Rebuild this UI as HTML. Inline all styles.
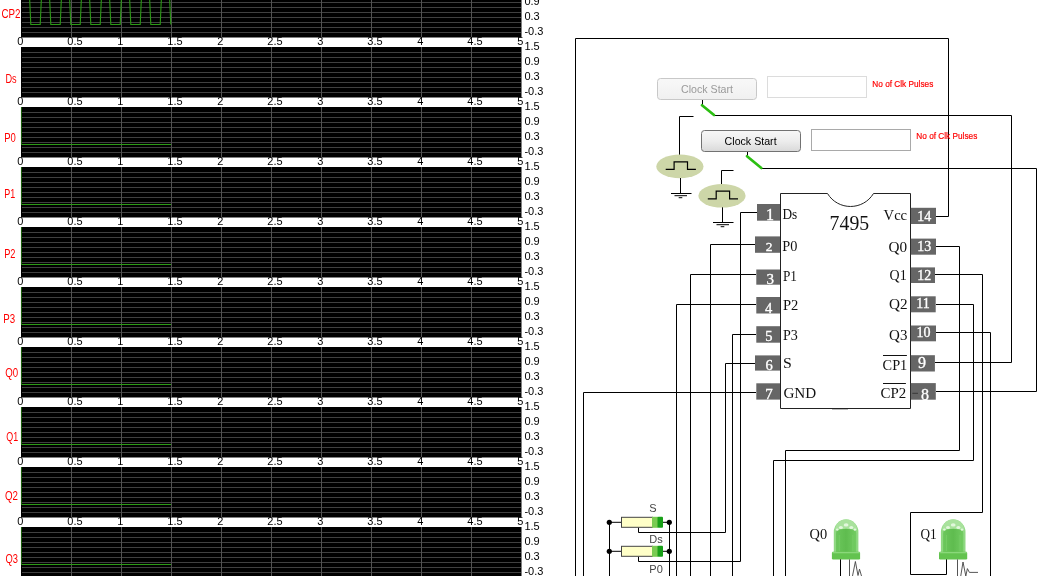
<!DOCTYPE html>
<html lang="en"><head><meta charset="utf-8"><title>7495 Shift Register</title>
<style>html,body{margin:0;padding:0;background:#fff;overflow:hidden}svg{display:block}.ax{font:11px 'Liberation Sans', Arial, sans-serif;fill:#000}.lb{font:12px 'Liberation Sans', Arial, sans-serif;fill:#f00}.sw{font:11px 'Liberation Sans', Arial, sans-serif;fill:#444}.ic{font:14.5px 'Liberation Serif', 'Times New Roman', serif;fill:#111}.pn{font:14px 'Liberation Serif', 'Times New Roman', serif;fill:#fff;stroke:#fff;stroke-width:.35px;text-anchor:middle}.w{fill:none;stroke:#000;stroke-width:1}</style></head><body>
<svg width="1052" height="576" viewBox="0 0 1052 576">
<defs>
<linearGradient id="btn" x1="0" y1="0" x2="0" y2="1"><stop offset="0" stop-color="#f7f7f7"/><stop offset="0.5" stop-color="#ededed"/><stop offset="1" stop-color="#d9d9d9"/></linearGradient>
<linearGradient id="btnd" x1="0" y1="0" x2="0" y2="1"><stop offset="0" stop-color="#f8f8f8"/><stop offset="1" stop-color="#f0f0f0"/></linearGradient>
<linearGradient id="led" x1="0" y1="0" x2="1" y2="0"><stop offset="0" stop-color="#6cc75c"/><stop offset="0.5" stop-color="#5fbc4f"/><stop offset="1" stop-color="#72cc62"/></linearGradient>
<filter id="nf" x="0" y="0" width="100%" height="100%" filterUnits="userSpaceOnUse" color-interpolation-filters="sRGB"><feOffset dx="0" dy="0"/></filter>
</defs>
<rect x="0" y="0" width="1052" height="576" fill="#fff"/>
<g filter="url(#nf)">
<g>
<rect x="21" y="-13" width="500.5" height="50.5" fill="#000"/>
<path d="M22 -7.5H521M22 -2.5H521M22 2.5H521M22 7.5H521M22 12.5H521M22 17.5H521M22 22.5H521M22 27.5H521M22 32.5H521" stroke="#404040" stroke-width="1" fill="none"/>
<path d="M71.5 -13V37M121.5 -13V37M171.5 -13V37M221.5 -13V37M271.5 -13V37M321.5 -13V37M371.5 -13V37M421.5 -13V37M471.5 -13V37" stroke="#525252" stroke-width="1" fill="none"/>
<polyline points="21.5,-2.0 29.6,-2.0 30.8,24.5 40.2,24.5 41.4,-2.0 49.6,-2.0 50.8,24.5 60.2,24.5 61.4,-2.0 69.6,-2.0 70.8,24.5 80.2,24.5 81.4,-2.0 89.6,-2.0 90.8,24.5 100.2,24.5 101.4,-2.0 109.6,-2.0 110.8,24.5 120.2,24.5 121.4,-2.0 129.6,-2.0 130.8,24.5 140.2,24.5 141.4,-2.0 149.6,-2.0 150.8,24.5 160.2,24.5 161.4,-2.0 169.6,-2.0 170.8,24.5" fill="none" stroke="#2c9a16" stroke-width="1.1"/>
<text class="ax" x="17.3" y="45">0</text>
<text class="ax" x="67.3" y="45">0.5</text>
<text class="ax" x="117.3" y="45">1</text>
<text class="ax" x="167.3" y="45">1.5</text>
<text class="ax" x="217.3" y="45">2</text>
<text class="ax" x="267.3" y="45">2.5</text>
<text class="ax" x="317.3" y="45">3</text>
<text class="ax" x="367.3" y="45">3.5</text>
<text class="ax" x="417.3" y="45">4</text>
<text class="ax" x="467.3" y="45">4.5</text>
<text class="ax" x="517.3" y="45">5</text>
<text class="ax" x="524.4" y="4.7">0.9</text>
<text class="ax" x="524.4" y="19.7">0.3</text>
<text class="ax" x="524.4" y="34.7">-0.3</text>
<text class="lb" x="1.5" y="18.0" textLength="19.0" lengthAdjust="spacingAndGlyphs">CP2</text>
</g>
<g>
<rect x="21" y="47" width="500.5" height="50.5" fill="#000"/>
<path d="M22 52.5H521M22 57.5H521M22 62.5H521M22 67.5H521M22 72.5H521M22 77.5H521M22 82.5H521M22 87.5H521M22 92.5H521" stroke="#404040" stroke-width="1" fill="none"/>
<path d="M71.5 47V97M121.5 47V97M171.5 47V97M221.5 47V97M271.5 47V97M321.5 47V97M371.5 47V97M421.5 47V97M471.5 47V97" stroke="#525252" stroke-width="1" fill="none"/>
<text class="ax" x="17.3" y="105">0</text>
<text class="ax" x="67.3" y="105">0.5</text>
<text class="ax" x="117.3" y="105">1</text>
<text class="ax" x="167.3" y="105">1.5</text>
<text class="ax" x="217.3" y="105">2</text>
<text class="ax" x="267.3" y="105">2.5</text>
<text class="ax" x="317.3" y="105">3</text>
<text class="ax" x="367.3" y="105">3.5</text>
<text class="ax" x="417.3" y="105">4</text>
<text class="ax" x="467.3" y="105">4.5</text>
<text class="ax" x="517.3" y="105">5</text>
<text class="ax" x="524.4" y="49.7">1.5</text>
<text class="ax" x="524.4" y="64.7">0.9</text>
<text class="ax" x="524.4" y="79.7">0.3</text>
<text class="ax" x="524.4" y="94.7">-0.3</text>
<text class="lb" x="5.4" y="83.0" textLength="11.2" lengthAdjust="spacingAndGlyphs">Ds</text>
</g>
<g>
<rect x="21" y="107" width="500.5" height="50.5" fill="#000"/>
<path d="M22 112.5H521M22 117.5H521M22 122.5H521M22 127.5H521M22 132.5H521M22 137.5H521M22 142.5H521M22 147.5H521M22 152.5H521" stroke="#404040" stroke-width="1" fill="none"/>
<path d="M71.5 107V157M121.5 107V157M171.5 107V157M221.5 107V157M271.5 107V157M321.5 107V157M371.5 107V157M421.5 107V157M471.5 107V157" stroke="#525252" stroke-width="1" fill="none"/>
<path d="M21.4 107V144.5" fill="none" stroke="#2c9a16" stroke-width="0.7"/>
<path d="M21.5 144.5H171" fill="none" stroke="#2c9a16" stroke-width="1.1"/>
<text class="ax" x="17.3" y="165">0</text>
<text class="ax" x="67.3" y="165">0.5</text>
<text class="ax" x="117.3" y="165">1</text>
<text class="ax" x="167.3" y="165">1.5</text>
<text class="ax" x="217.3" y="165">2</text>
<text class="ax" x="267.3" y="165">2.5</text>
<text class="ax" x="317.3" y="165">3</text>
<text class="ax" x="367.3" y="165">3.5</text>
<text class="ax" x="417.3" y="165">4</text>
<text class="ax" x="467.3" y="165">4.5</text>
<text class="ax" x="517.3" y="165">5</text>
<text class="ax" x="524.4" y="109.7">1.5</text>
<text class="ax" x="524.4" y="124.7">0.9</text>
<text class="ax" x="524.4" y="139.7">0.3</text>
<text class="ax" x="524.4" y="154.7">-0.3</text>
<text class="lb" x="4.2" y="142.0" textLength="11.6" lengthAdjust="spacingAndGlyphs">P0</text>
</g>
<g>
<rect x="21" y="167" width="500.5" height="50.5" fill="#000"/>
<path d="M22 172.5H521M22 177.5H521M22 182.5H521M22 187.5H521M22 192.5H521M22 197.5H521M22 202.5H521M22 207.5H521M22 212.5H521" stroke="#404040" stroke-width="1" fill="none"/>
<path d="M71.5 167V217M121.5 167V217M171.5 167V217M221.5 167V217M271.5 167V217M321.5 167V217M371.5 167V217M421.5 167V217M471.5 167V217" stroke="#525252" stroke-width="1" fill="none"/>
<path d="M21.4 167V204.5" fill="none" stroke="#2c9a16" stroke-width="0.7"/>
<path d="M21.5 204.5H171" fill="none" stroke="#2c9a16" stroke-width="1.1"/>
<text class="ax" x="17.3" y="225">0</text>
<text class="ax" x="67.3" y="225">0.5</text>
<text class="ax" x="117.3" y="225">1</text>
<text class="ax" x="167.3" y="225">1.5</text>
<text class="ax" x="217.3" y="225">2</text>
<text class="ax" x="267.3" y="225">2.5</text>
<text class="ax" x="317.3" y="225">3</text>
<text class="ax" x="367.3" y="225">3.5</text>
<text class="ax" x="417.3" y="225">4</text>
<text class="ax" x="467.3" y="225">4.5</text>
<text class="ax" x="517.3" y="225">5</text>
<text class="ax" x="524.4" y="169.7">1.5</text>
<text class="ax" x="524.4" y="184.7">0.9</text>
<text class="ax" x="524.4" y="199.7">0.3</text>
<text class="ax" x="524.4" y="214.7">-0.3</text>
<text class="lb" x="4.2" y="198.0" textLength="11.0" lengthAdjust="spacingAndGlyphs">P1</text>
</g>
<g>
<rect x="21" y="227" width="500.5" height="50.5" fill="#000"/>
<path d="M22 232.5H521M22 237.5H521M22 242.5H521M22 247.5H521M22 252.5H521M22 257.5H521M22 262.5H521M22 267.5H521M22 272.5H521" stroke="#404040" stroke-width="1" fill="none"/>
<path d="M71.5 227V277M121.5 227V277M171.5 227V277M221.5 227V277M271.5 227V277M321.5 227V277M371.5 227V277M421.5 227V277M471.5 227V277" stroke="#525252" stroke-width="1" fill="none"/>
<path d="M21.4 227V264.5" fill="none" stroke="#2c9a16" stroke-width="0.7"/>
<path d="M21.5 264.5H171" fill="none" stroke="#2c9a16" stroke-width="1.1"/>
<text class="ax" x="17.3" y="285">0</text>
<text class="ax" x="67.3" y="285">0.5</text>
<text class="ax" x="117.3" y="285">1</text>
<text class="ax" x="167.3" y="285">1.5</text>
<text class="ax" x="217.3" y="285">2</text>
<text class="ax" x="267.3" y="285">2.5</text>
<text class="ax" x="317.3" y="285">3</text>
<text class="ax" x="367.3" y="285">3.5</text>
<text class="ax" x="417.3" y="285">4</text>
<text class="ax" x="467.3" y="285">4.5</text>
<text class="ax" x="517.3" y="285">5</text>
<text class="ax" x="524.4" y="229.7">1.5</text>
<text class="ax" x="524.4" y="244.7">0.9</text>
<text class="ax" x="524.4" y="259.7">0.3</text>
<text class="ax" x="524.4" y="274.7">-0.3</text>
<text class="lb" x="4.2" y="257.5" textLength="11.3" lengthAdjust="spacingAndGlyphs">P2</text>
</g>
<g>
<rect x="21" y="287" width="500.5" height="50.5" fill="#000"/>
<path d="M22 292.5H521M22 297.5H521M22 302.5H521M22 307.5H521M22 312.5H521M22 317.5H521M22 322.5H521M22 327.5H521M22 332.5H521" stroke="#404040" stroke-width="1" fill="none"/>
<path d="M71.5 287V337M121.5 287V337M171.5 287V337M221.5 287V337M271.5 287V337M321.5 287V337M371.5 287V337M421.5 287V337M471.5 287V337" stroke="#525252" stroke-width="1" fill="none"/>
<path d="M21.4 287V324.5" fill="none" stroke="#2c9a16" stroke-width="0.7"/>
<path d="M21.5 324.5H171" fill="none" stroke="#2c9a16" stroke-width="1.1"/>
<text class="ax" x="17.3" y="345">0</text>
<text class="ax" x="67.3" y="345">0.5</text>
<text class="ax" x="117.3" y="345">1</text>
<text class="ax" x="167.3" y="345">1.5</text>
<text class="ax" x="217.3" y="345">2</text>
<text class="ax" x="267.3" y="345">2.5</text>
<text class="ax" x="317.3" y="345">3</text>
<text class="ax" x="367.3" y="345">3.5</text>
<text class="ax" x="417.3" y="345">4</text>
<text class="ax" x="467.3" y="345">4.5</text>
<text class="ax" x="517.3" y="345">5</text>
<text class="ax" x="524.4" y="289.7">1.5</text>
<text class="ax" x="524.4" y="304.7">0.9</text>
<text class="ax" x="524.4" y="319.7">0.3</text>
<text class="ax" x="524.4" y="334.7">-0.3</text>
<text class="lb" x="3.3" y="322.5" textLength="11.9" lengthAdjust="spacingAndGlyphs">P3</text>
</g>
<g>
<rect x="21" y="347" width="500.5" height="50.5" fill="#000"/>
<path d="M22 352.5H521M22 357.5H521M22 362.5H521M22 367.5H521M22 372.5H521M22 377.5H521M22 382.5H521M22 387.5H521M22 392.5H521" stroke="#404040" stroke-width="1" fill="none"/>
<path d="M71.5 347V397M121.5 347V397M171.5 347V397M221.5 347V397M271.5 347V397M321.5 347V397M371.5 347V397M421.5 347V397M471.5 347V397" stroke="#525252" stroke-width="1" fill="none"/>
<path d="M21.4 347V384.5" fill="none" stroke="#2c9a16" stroke-width="0.7"/>
<path d="M21.5 384.5H171" fill="none" stroke="#2c9a16" stroke-width="1.1"/>
<text class="ax" x="17.3" y="405">0</text>
<text class="ax" x="67.3" y="405">0.5</text>
<text class="ax" x="117.3" y="405">1</text>
<text class="ax" x="167.3" y="405">1.5</text>
<text class="ax" x="217.3" y="405">2</text>
<text class="ax" x="267.3" y="405">2.5</text>
<text class="ax" x="317.3" y="405">3</text>
<text class="ax" x="367.3" y="405">3.5</text>
<text class="ax" x="417.3" y="405">4</text>
<text class="ax" x="467.3" y="405">4.5</text>
<text class="ax" x="517.3" y="405">5</text>
<text class="ax" x="524.4" y="349.7">1.5</text>
<text class="ax" x="524.4" y="364.7">0.9</text>
<text class="ax" x="524.4" y="379.7">0.3</text>
<text class="ax" x="524.4" y="394.7">-0.3</text>
<text class="lb" x="5.2" y="376.5" textLength="12.9" lengthAdjust="spacingAndGlyphs">Q0</text>
</g>
<g>
<rect x="21" y="407" width="500.5" height="50.5" fill="#000"/>
<path d="M22 412.5H521M22 417.5H521M22 422.5H521M22 427.5H521M22 432.5H521M22 437.5H521M22 442.5H521M22 447.5H521M22 452.5H521" stroke="#404040" stroke-width="1" fill="none"/>
<path d="M71.5 407V457M121.5 407V457M171.5 407V457M221.5 407V457M271.5 407V457M321.5 407V457M371.5 407V457M421.5 407V457M471.5 407V457" stroke="#525252" stroke-width="1" fill="none"/>
<path d="M21.4 407V444.5" fill="none" stroke="#2c9a16" stroke-width="0.7"/>
<path d="M21.5 444.5H171" fill="none" stroke="#2c9a16" stroke-width="1.1"/>
<text class="ax" x="17.3" y="465">0</text>
<text class="ax" x="67.3" y="465">0.5</text>
<text class="ax" x="117.3" y="465">1</text>
<text class="ax" x="167.3" y="465">1.5</text>
<text class="ax" x="217.3" y="465">2</text>
<text class="ax" x="267.3" y="465">2.5</text>
<text class="ax" x="317.3" y="465">3</text>
<text class="ax" x="367.3" y="465">3.5</text>
<text class="ax" x="417.3" y="465">4</text>
<text class="ax" x="467.3" y="465">4.5</text>
<text class="ax" x="517.3" y="465">5</text>
<text class="ax" x="524.4" y="409.7">1.5</text>
<text class="ax" x="524.4" y="424.7">0.9</text>
<text class="ax" x="524.4" y="439.7">0.3</text>
<text class="ax" x="524.4" y="454.7">-0.3</text>
<text class="lb" x="6.2" y="440.5" textLength="11.9" lengthAdjust="spacingAndGlyphs">Q1</text>
</g>
<g>
<rect x="21" y="467" width="500.5" height="50.5" fill="#000"/>
<path d="M22 472.5H521M22 477.5H521M22 482.5H521M22 487.5H521M22 492.5H521M22 497.5H521M22 502.5H521M22 507.5H521M22 512.5H521" stroke="#404040" stroke-width="1" fill="none"/>
<path d="M71.5 467V517M121.5 467V517M171.5 467V517M221.5 467V517M271.5 467V517M321.5 467V517M371.5 467V517M421.5 467V517M471.5 467V517" stroke="#525252" stroke-width="1" fill="none"/>
<path d="M21.4 467V504.5" fill="none" stroke="#2c9a16" stroke-width="0.7"/>
<path d="M21.5 504.5H171" fill="none" stroke="#2c9a16" stroke-width="1.1"/>
<text class="ax" x="17.3" y="525">0</text>
<text class="ax" x="67.3" y="525">0.5</text>
<text class="ax" x="117.3" y="525">1</text>
<text class="ax" x="167.3" y="525">1.5</text>
<text class="ax" x="217.3" y="525">2</text>
<text class="ax" x="267.3" y="525">2.5</text>
<text class="ax" x="317.3" y="525">3</text>
<text class="ax" x="367.3" y="525">3.5</text>
<text class="ax" x="417.3" y="525">4</text>
<text class="ax" x="467.3" y="525">4.5</text>
<text class="ax" x="517.3" y="525">5</text>
<text class="ax" x="524.4" y="469.7">1.5</text>
<text class="ax" x="524.4" y="484.7">0.9</text>
<text class="ax" x="524.4" y="499.7">0.3</text>
<text class="ax" x="524.4" y="514.7">-0.3</text>
<text class="lb" x="5.0" y="500.0" textLength="13.0" lengthAdjust="spacingAndGlyphs">Q2</text>
</g>
<g>
<rect x="21" y="527" width="500.5" height="50.5" fill="#000"/>
<path d="M22 532.5H521M22 537.5H521M22 542.5H521M22 547.5H521M22 552.5H521M22 557.5H521M22 562.5H521M22 567.5H521M22 572.5H521" stroke="#404040" stroke-width="1" fill="none"/>
<path d="M71.5 527V577M121.5 527V577M171.5 527V577M221.5 527V577M271.5 527V577M321.5 527V577M371.5 527V577M421.5 527V577M471.5 527V577" stroke="#525252" stroke-width="1" fill="none"/>
<path d="M21.4 527V564.5" fill="none" stroke="#2c9a16" stroke-width="0.7"/>
<path d="M21.5 564.5H171" fill="none" stroke="#2c9a16" stroke-width="1.1"/>
<text class="ax" x="17.3" y="585">0</text>
<text class="ax" x="67.3" y="585">0.5</text>
<text class="ax" x="117.3" y="585">1</text>
<text class="ax" x="167.3" y="585">1.5</text>
<text class="ax" x="217.3" y="585">2</text>
<text class="ax" x="267.3" y="585">2.5</text>
<text class="ax" x="317.3" y="585">3</text>
<text class="ax" x="367.3" y="585">3.5</text>
<text class="ax" x="417.3" y="585">4</text>
<text class="ax" x="467.3" y="585">4.5</text>
<text class="ax" x="517.3" y="585">5</text>
<text class="ax" x="524.4" y="529.7">1.5</text>
<text class="ax" x="524.4" y="544.7">0.9</text>
<text class="ax" x="524.4" y="559.7">0.3</text>
<text class="ax" x="524.4" y="574.7">-0.3</text>
<text class="lb" x="5.5" y="563.0" textLength="12.5" lengthAdjust="spacingAndGlyphs">Q3</text>
</g>
<polyline class="w" points="936,216.5 948.5,216.5 948.5,38.5 575.5,38.5 575.5,577"/>
<polyline class="w" points="756,392.5 583.5,392.5 583.5,577"/>
<polyline class="w" points="757,212.5 740.5,212.5 740.5,561.5 638.5,561.5 638.5,556.5"/>
<polyline class="w" points="755,244.5 710.5,244.5 710.5,577"/>
<polyline class="w" points="756,274.5 690.5,274.5 690.5,577"/>
<polyline class="w" points="756,304.5 676.5,304.5 676.5,577"/>
<polyline class="w" points="756,334.5 732.5,334.5 732.5,577"/>
<polyline class="w" points="755,363.5 725.5,363.5 725.5,532.5 638.5,532.5 638.5,527.5"/>
<polyline class="w" points="936,246.5 959.5,246.5 959.5,450.5 785.5,450.5 785.5,577"/>
<polyline class="w" points="935,274.5 982.5,274.5 982.5,512.5 910.5,512.5 910.5,574.5 946.5,574.5 946.5,559"/>
<polyline class="w" points="936,304.5 973.5,304.5 973.5,460.5 773.5,460.5 773.5,577"/>
<polyline class="w" points="936,332.5 990.5,332.5 990.5,577"/>
<polyline class="w" points="935,362.5 1011.5,362.5 1011.5,115.5 714,115.5"/>
<polyline class="w" points="936,391.5 1036.5,391.5 1036.5,168.5 761,168.5"/>
<polyline class="w" points="702.5,100 702.5,105"/>
<polyline class="w" points="693.5,116.5 679.5,116.5 679.5,155"/>
<line x1="702" y1="105.3" x2="714" y2="115" stroke="#2cbf12" stroke-width="2.7" stroke-linecap="round"/>
<polyline class="w" points="747.5,152 747.5,156"/>
<polyline class="w" points="733.5,170.5 721.5,170.5 721.5,185"/>
<line x1="747" y1="156.2" x2="761.3" y2="168" stroke="#2cbf12" stroke-width="2.7" stroke-linecap="round"/>
<ellipse cx="679.9" cy="166.4" rx="23.6" ry="11.8" fill="#cdd6a8"/>
<polyline points="665.7,169.4 674.1,169.4 674.1,161.8 687.5,161.8 687.5,169.4 695.9,169.4" fill="none" stroke="#000" stroke-width="1.2"/>
<polyline class="w" points="680.5,178 680.5,193.5"/>
<path d="M671 193.5H691.5M674.5 195.7H687M678.7 197.7H682.3" stroke="#000" stroke-width="1" fill="none"/>
<ellipse cx="722" cy="195.8" rx="23.6" ry="11.8" fill="#cdd6a8"/>
<polyline points="707.8,198.8 716.2,198.8 716.2,191.2 729.6,191.2 729.6,198.8 738,198.8" fill="none" stroke="#000" stroke-width="1.2"/>
<polyline class="w" points="722.5,207.3 722.5,222.5"/>
<path d="M713 222.5H733.5M716.5 224.7H729M720.7 226.7H724.3" stroke="#000" stroke-width="1" fill="none"/>
<rect x="657.5" y="78.5" width="99" height="21" rx="3" fill="url(#btnd)" stroke="#c8c8c8"/>
<text x="707" y="93" text-anchor="middle" style="font:11px 'Liberation Sans', Arial, sans-serif" fill="#9a9a9a" textLength="52" lengthAdjust="spacingAndGlyphs">Clock Start</text>
<rect x="767.5" y="76.5" width="99" height="21" fill="#fff" stroke="#dcdcdc"/>
<text x="872.3" y="86.8" style="font:9.4px 'Liberation Sans', Arial, sans-serif" fill="#f00" stroke="#f00" stroke-width="0.2" textLength="61" lengthAdjust="spacingAndGlyphs">No of Clk Pulses</text>
<rect x="701.5" y="130.5" width="99" height="21" rx="3" fill="url(#btn)" stroke="#727272"/>
<text x="750.6" y="145" text-anchor="middle" style="font:11px 'Liberation Sans', Arial, sans-serif" fill="#000" textLength="52" lengthAdjust="spacingAndGlyphs">Clock Start</text>
<rect x="811.5" y="129.5" width="99" height="21" fill="#fff" stroke="#a9a9a9"/>
<text x="916.3" y="139.1" style="font:9.4px 'Liberation Sans', Arial, sans-serif" fill="#f00" stroke="#f00" stroke-width="0.2" textLength="61" lengthAdjust="spacingAndGlyphs">No of Clk Pulses</text>
<path d="M780.5 408.5V193.5H827.5C838 210.8 863 210.8 873.5 193.5H910.5V408.5Z" fill="#fff" stroke="#222" stroke-width="1"/>
<path d="M832 409.5H848" stroke="#bbb" stroke-width="1"/>
<text x="829.6" y="230.2" style="font:21px 'Liberation Serif', 'Times New Roman', serif" fill="#111" textLength="39.6" lengthAdjust="spacingAndGlyphs">7495</text>
<rect x="757" y="204" width="23" height="16.7" fill="#666"/>
<text class="pn" x="770" y="219.7" style="font-size:16px">1</text>
<text class="ic" x="782.5" y="219" textLength="14.8" lengthAdjust="spacingAndGlyphs">Ds</text>
<rect x="755" y="236.4" width="25" height="16.4" fill="#666"/>
<text class="pn" x="769.2" y="251.3" style="font-size:13.5px">2</text>
<text class="ic" x="782.2" y="251" textLength="15.1" lengthAdjust="spacingAndGlyphs">P0</text>
<rect x="756.3" y="269.5" width="23.7" height="15.2" fill="#666"/>
<text class="pn" x="770.3" y="283.6" style="font-size:15px">3</text>
<text class="ic" x="782.9" y="281" textLength="14" lengthAdjust="spacingAndGlyphs">P1</text>
<rect x="756.3" y="297" width="23.7" height="16.5" fill="#666"/>
<text class="pn" x="768.7" y="312.8" style="font-size:14.5px">4</text>
<text class="ic" x="782.9" y="310.4" textLength="15.4" lengthAdjust="spacingAndGlyphs">P2</text>
<rect x="756.3" y="326.2" width="23.7" height="16.5" fill="#666"/>
<text class="pn" x="768.8" y="341.3" style="font-size:14.5px">5</text>
<text class="ic" x="782.9" y="340.3" textLength="14.9" lengthAdjust="spacingAndGlyphs">P3</text>
<rect x="755" y="355.4" width="25" height="15.2" fill="#666"/>
<text class="pn" x="769" y="370" style="font-size:14.5px">6</text>
<text class="ic" x="783.1" y="367.5" textLength="8.8" lengthAdjust="spacingAndGlyphs">S</text>
<rect x="756.3" y="383.3" width="23.7" height="16.3" fill="#666"/>
<text class="pn" x="769" y="399.4" style="font-size:15px">7</text>
<text class="ic" x="783.4" y="397.9" textLength="32.8" lengthAdjust="spacingAndGlyphs">GND</text>
<rect x="910.8" y="207.8" width="25.2" height="16.2" fill="#666"/>
<text class="pn" x="924.3" y="221.2" style="font-size:14px">14</text>
<text class="ic" x="883.6" y="220.4" textLength="23.5" lengthAdjust="spacingAndGlyphs">Vcc</text>
<rect x="910.8" y="238.6" width="25.2" height="16.1" fill="#666"/>
<text class="pn" x="924.3" y="251.1" style="font-size:14px">13</text>
<text class="ic" x="888.6" y="252" textLength="18.6" lengthAdjust="spacingAndGlyphs">Q0</text>
<rect x="910.8" y="267.4" width="24.2" height="15.6" fill="#666"/>
<text class="pn" x="924.3" y="280" style="font-size:14px">12</text>
<text class="ic" x="889.6" y="280.2" textLength="17.1" lengthAdjust="spacingAndGlyphs">Q1</text>
<rect x="910.8" y="296.3" width="24.9" height="16" fill="#666"/>
<text class="pn" x="923" y="308.4" style="font-size:14px">11</text>
<text class="ic" x="889.1" y="309.2" textLength="18.6" lengthAdjust="spacingAndGlyphs">Q2</text>
<rect x="910.8" y="325.5" width="25.2" height="15.8" fill="#666"/>
<text class="pn" x="923.6" y="337.1" style="font-size:14px">10</text>
<text class="ic" x="889.1" y="339.6" textLength="18.3" lengthAdjust="spacingAndGlyphs">Q3</text>
<rect x="910.8" y="355.2" width="24.1" height="16.3" fill="#666"/>
<text class="pn" x="921.9" y="367.6" style="font-size:16px">9</text>
<text class="ic" x="882.6" y="369.7" textLength="24.7" lengthAdjust="spacingAndGlyphs">CP1</text>
<path d="M883 355.5H906.9" stroke="#111" stroke-width="1"/>
<rect x="910.8" y="383.1" width="25" height="16.6" fill="#666"/>
<text class="pn" x="924.9" y="399.7" style="font-size:16px">8</text>
<text class="ic" x="880.6" y="398.1" textLength="25.7" lengthAdjust="spacingAndGlyphs">CP2</text>
<path d="M883 383.5H905.9" stroke="#111" stroke-width="1"/>
<path d="M912.3 393.3H918" stroke="#333" stroke-width="0.9"/>
<polyline class="w" points="609.5,522 609.5,577"/>
<polyline class="w" points="669.5,522 669.5,577"/>
<polyline class="w" points="609,522.3 621,522.3"/>
<polyline class="w" points="663,522.3 669.5,522.3"/>
<rect x="621.5" y="517.3" width="31" height="10" fill="#ffffc8" stroke="#444" stroke-width="1"/>
<rect x="652" y="516.8" width="6" height="11" fill="#7acb52"/>
<rect x="657.5" y="516.8" width="5.5" height="11" rx="1" fill="#18a018"/>
<circle cx="609.3" cy="522.3" r="2.6" fill="#000"/>
<circle cx="669.3" cy="522.3" r="2.6" fill="#000"/>
<text class="sw" x="649.3" y="511.5">S</text>
<polyline class="w" points="609,551.3 621,551.3"/>
<polyline class="w" points="663,551.3 669.5,551.3"/>
<rect x="621.5" y="546.3" width="31" height="10" fill="#ffffc8" stroke="#444" stroke-width="1"/>
<rect x="652" y="545.8" width="6" height="11" fill="#7acb52"/>
<rect x="657.5" y="545.8" width="5.5" height="11" rx="1" fill="#18a018"/>
<circle cx="609.3" cy="551.3" r="2.6" fill="#000"/>
<circle cx="669.3" cy="551.3" r="2.6" fill="#000"/>
<text class="sw" x="649.3" y="542.6">Ds</text>
<text class="sw" x="649.3" y="573.2">P0</text>
<path d="M833.8 552.5V532A12.3 12.5 0 0 1 858.4 532V552.5Z" fill="#8fd882"/>
<path d="M836 552.5V533.5A10.1 9.5 0 0 1 856.2 533.5V552.5Z" fill="url(#led)"/>
<path d="M835 530.5A11.1 11.3 0 0 1 857.2 530.5Q846.1 526.8 835 530.5Z" fill="#a9e29d"/>
<ellipse cx="840.9" cy="527.4" rx="2" ry="1.5" fill="#e2f7dc"/>
<ellipse cx="846.1" cy="524.9" rx="2.4" ry="1.6" fill="#e2f7dc"/>
<ellipse cx="851.3" cy="527.4" rx="2" ry="1.5" fill="#e2f7dc"/>
<ellipse cx="837.3" cy="529.6" rx="1.3" ry="1.2" fill="#e2f7dc"/>
<ellipse cx="854.9" cy="529.6" rx="1.3" ry="1.2" fill="#e2f7dc"/>
<path d="M839.3 535V551M852.9 535V551" stroke="#79cf69" stroke-width="1" opacity="0.8"/>
<rect x="831.9" y="551.7" width="28.2" height="7.8" rx="1.2" fill="#63c34f"/>
<path d="M832.4 552.6H859.8" stroke="#8ad87a" stroke-width="1.4"/>
<text class="ic" x="809.6" y="539.4" textLength="17.6" lengthAdjust="spacingAndGlyphs">Q0</text>
<path d="M940.9 552.5V532A12.3 12.5 0 0 1 965.5 532V552.5Z" fill="#8fd882"/>
<path d="M943.1 552.5V533.5A10.1 9.5 0 0 1 963.3 533.5V552.5Z" fill="url(#led)"/>
<path d="M942.1 530.5A11.1 11.3 0 0 1 964.3 530.5Q953.2 526.8 942.1 530.5Z" fill="#a9e29d"/>
<ellipse cx="948" cy="527.4" rx="2" ry="1.5" fill="#e2f7dc"/>
<ellipse cx="953.2" cy="524.9" rx="2.4" ry="1.6" fill="#e2f7dc"/>
<ellipse cx="958.4" cy="527.4" rx="2" ry="1.5" fill="#e2f7dc"/>
<ellipse cx="944.4" cy="529.6" rx="1.3" ry="1.2" fill="#e2f7dc"/>
<ellipse cx="962" cy="529.6" rx="1.3" ry="1.2" fill="#e2f7dc"/>
<path d="M946.4 535V551M960 535V551" stroke="#79cf69" stroke-width="1" opacity="0.8"/>
<rect x="939" y="551.7" width="28.2" height="7.8" rx="1.2" fill="#63c34f"/>
<path d="M939.5 552.6H966.9" stroke="#8ad87a" stroke-width="1.4"/>
<text class="ic" x="920.5" y="539.4" textLength="16.2" lengthAdjust="spacingAndGlyphs">Q1</text>
<polyline class="w" points="840.5,559.4 840.5,577"/>
<path d="M849.5 559.4V577" stroke="#555" stroke-width="1"/>
<polyline points="852.3,577 855.4,561.5 858,575.5 859.5,569.2 861.8,577" fill="none" stroke="#444" stroke-width="0.9"/>
<path d="M957.5 559.4V577" stroke="#555" stroke-width="1"/>
<polyline points="960.6,577 963,562 965.8,576 967.4,568.6 969.4,572.4 978,572.4" fill="none" stroke="#444" stroke-width="0.9"/>
</g>
</svg></body></html>
